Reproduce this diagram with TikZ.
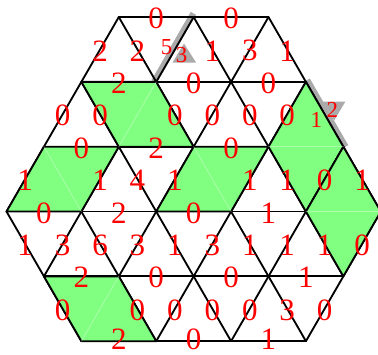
\documentclass[tikz,border=0pt]{standalone}
\usepackage{fontspec}
\setmainfont{Liberation Serif}
\usepackage{tikz}
\usetikzlibrary{calc}
\usepackage{tkz-euclide}
\definecolor{shadowgray}{RGB}{170,170,170}
\definecolor{tile}{RGB}{128,255,128}
\tikzset{num/.style={text=red, inner sep=0pt, yshift=-0.5pt, font=\fontsize{11.8}{12}\selectfont},
  smallnum/.style={text=red, inner sep=0pt, font=\fontsize{8.7}{9}\selectfont}}

\begin{document}
\begin{tikzpicture}
                \useasboundingbox (-0.087,-1.904) rectangle (4.963,2.826);
                \tkzDefPoints{1.5/2.598/a0, 2.5/2.598/a1, 3.5/2.598/a2,
                  1/1.732/b0, 2/1.732/b1, 3/1.732/b2, 4/1.732/b3,
                  0.5/0.866/c0, 1.5/0.866/c1, 2.5/0.866/c2, 3.5/0.866/c3, 4.5/0.866/c4,
                  0/0/d0, 1/0/d1, 2/0/d2, 3/0/d3, 4/0/d4, 5/0/d5,
                  0.5/-0.866/e0, 1.5/-0.866/e1, 2.5/-0.866/e2, 3.5/-0.866/e3, 4.5/-0.866/e4,
                  1/-1.732/f0, 2/-1.732/f1, 3/-1.732/f2, 4/-1.732/f3}
                \fill[shadowgray] (1.936,1.754) -- (2.005,1.714) -- (2.532,2.628) -- (2.462,2.668) -- cycle;
                \fill[shadowgray] (2.371,2.244) -- (2.218,1.991) -- (2.532,1.991) -- cycle;
                \fill[shadowgray] (3.983,1.738) -- (4.052,1.778) -- (4.565,0.887) -- (4.496,0.847) -- cycle;
                \fill[shadowgray] (4.228,1.467) -- (4.526,1.467) -- (4.378,1.218) -- cycle;
                \tkzDrawSegments[black, line width=0.7pt](a0,a2 b0,b3 c0,c4 d0,d5 e0,e4 f0,f3
                  d0,a0 e0,a1 f0,a2 f1,b3 f2,c4 f3,d5
                  f0,d0 f1,c0 f2,b0 f3,a0 e4,a1 d5,a2)
                \tkzDrawPolygon[fill=tile, line width=0.7pt](b0,b1,c2,c1)
                \tkzDrawPolygon[fill=tile, line width=0.7pt](c0,c1,d1,d0)
                \tkzDrawPolygon[fill=tile, line width=0.7pt](c2,c3,d3,d2)
                \tkzDrawPolygon[fill=tile, line width=0.7pt](b3,c4,d4,c3)
                \tkzDrawPolygon[fill=tile, line width=0.7pt](c4,d5,e4,d4)
                \tkzDrawPolygon[fill=tile, line width=0.7pt](e0,e1,f1,f0)
                \tkzDrawSegments[white, opacity=.35, line width=.3pt](c1,b1 c0,d1 c2,d3 c3,c4 d4,d5 e1,f0)
                \foreach \p/\q/\t in {a0/a1/0, a1/a2/0, b0/a0/2, b1/a0/2, b2/a1/1, b2/a2/3, b3/a2/1,
                  b0/b1/2, b1/b2/0, b2/b3/0,
                  c0/b0/0, c1/b0/0, c2/b1/0, c2/b2/0, c3/b2/0, c3/b3/0,
                  c0/c1/0, c1/c2/2, c2/c3/0,
                  d0/c0/1, d1/c1/1, d2/c1/4, d2/c2/1, d3/c3/1, d4/c3/1, d4/c4/0, d5/c4/1,
                  d0/d1/0, d1/d2/2, d2/d3/0, d3/d4/1,
                  e0/d0/1, e0/d1/3, e1/d1/6, e1/d2/3, e2/d2/1, e2/d3/3, e3/d3/1, e3/d4/1, e4/d4/1, e4/d5/0,
                  e0/e1/2, e1/e2/0, e2/e3/0, e3/e4/1,
                  f0/e0/0, f1/e1/0, f1/e2/0, f2/e2/0, f2/e3/0, f3/e3/3, f3/e4/0}
                  \node[num] (\p\q) at ($(\p)!.5!(\q)$) {\t};
                \foreach \p/\q/\t in {f0/f1/2, f1/f2/0, f2/f3/1}
                  \node[num, yshift=1.3pt] (\p\q) at ($(\p)!.5!(\q)$) {\t};
                \node[smallnum] (b1a1l) at ($(b1)!.5!(a1)+(-3.15pt,0.9pt)$) {5};
                \node[smallnum] (b1a1r) at ($(b1)!.5!(a1)+(2.55pt,-2.3pt)$) {3};
                \node[smallnum] (c4b3l) at ($(c4)!.5!(b3)+(-3.15pt,-2.1pt)$) {1};
                \node[smallnum] (c4b3r) at ($(c4)!.5!(b3)+(2.9pt,1.7pt)$) {2};
            \end{tikzpicture}
\end{document}
